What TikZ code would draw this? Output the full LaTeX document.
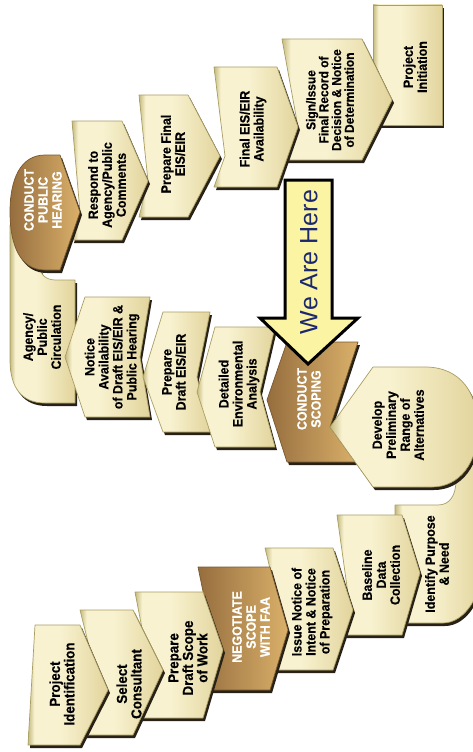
\documentclass[tikz,border=0pt]{standalone}
\usepackage{fontspec}
\setmainfont{Liberation Sans}
\newfontfamily\labfont{Liberation Sans}[UprightFont=* Bold, FakeBold=0.5, FakeStretch=0.92]
\definecolor{cOl}{RGB}{196,186,128}
\definecolor{cLt}{RGB}{248,242,208}
\definecolor{cDk}{RGB}{226,212,156}
\definecolor{cEdge}{RGB}{170,158,100}
\definecolor{bDk}{RGB}{150,110,62}
\definecolor{bLt}{RGB}{218,176,106}
\definecolor{bEdge}{RGB}{120,88,46}
\definecolor{shadowc}{RGB}{40,33,22}
\definecolor{arrowfill}{RGB}{251,244,163}
\definecolor{navy}{RGB}{28,40,110}
\pgfdeclarehorizontalshading{creamshade}{100bp}{color(0bp)=(cOl); color(25bp)=(cOl); color(29bp)=(cLt); color(45bp)=(cLt); color(75bp)=(cDk); color(100bp)=(cDk)}
\pgfdeclarehorizontalshading{brownshade}{100bp}{color(0bp)=(bDk); color(25bp)=(bDk); color(75bp)=(bLt); color(100bp)=(bLt)}
\tikzset{
  cbox/.style={shade, shading=creamshade, draw=cEdge, line width=0.7pt, line join=round,
    preaction={fill=shadowc, transform canvas={shift={(2pt,-3pt)}}}},
  bbox/.style={shade, shading=brownshade, draw=bEdge, line width=0.7pt, line join=round,
    preaction={fill=shadowc, transform canvas={shift={(2pt,-3pt)}}}},
  lab/.style={rotate=90, align=center, inner sep=0pt, text=black,
    font=\labfont\fontsize{13.5}{14}\selectfont},
  labbig/.style={lab, font=\labfont\fontsize{14.5}{14.5}\selectfont},
  wlab/.style={lab, text=white},
  herearrow/.style={fill=arrowfill, draw=black, line width=3pt, line join=miter},
}
\begin{document}
\begin{tikzpicture}[x=1pt, y=-1pt]
\fill[white] (0,0) rectangle (472,752);
\useasboundingbox (0,0) rectangle (472,752);

% ---------- middle row (right to left) ----------
\path[cbox] (75,280) -- (75,403) -- (45,403) .. controls (22,403) and (10,388) .. (10,360)
  -- (10,225) -- (40,225) -- (40,266) .. controls (40,275) and (46,280) .. (56,280) -- cycle;
\node[lab] (agency) at (42,337) {Agency/\\Public\\Circulation};

\path[cbox] (85,297) -- (150,297) -- (140,357) -- (150,417) -- (85,417) -- (65,357) -- cycle;
\node[lab] (notice) at (112,357) {Notice\\Availability\\of Draft EIS/EIR \&\\Public Hearing};

\path[cbox] (163,312) -- (210,312) -- (197,377) -- (210,432) -- (163,432) -- (143,377) -- cycle;
\node[lab] (pdraft) at (174,372) {Prepare\\Draft EIS/EIR};

\path[cbox] (215,327) -- (275,327) -- (260,392) -- (275,447) -- (215,447) -- (197,392) -- cycle;
\node[lab] (detailed) at (239,384) {Detailed\\Environmental\\Analysis};

\path[bbox] (287,342) -- (358,342) -- (330,427) -- (358,462) -- (287,462) -- (267,400) -- cycle;
\node[wlab] (scoping) at (309,399) {CONDUCT\\SCOPING};

% U-turn band to bottom row
\path[cbox] (395,505) -- (438,505) .. controls (450,505) and (456,495) .. (456,480)
  -- (456,440) -- (483,440) -- (483,560) .. controls (483,595) and (465,623) .. (443,623)
  -- (395,623) -- cycle;
\node[lab] (identify) at (437,564) {Identify Purpose\\\& Need};

\path[cbox] (330,427) -- (373,367) -- (425,367) .. controls (462,367) and (478,395) .. (478,428)
  .. controls (478,462) and (460,487) .. (432,487) -- (373,487) -- cycle;
\node[lab] (develop) at (398,425) {Develop\\Preliminary\\Range of\\Alternatives};

% ---------- bottom row (left to right) ----------
\path[cbox] (337,515) -- (402,515) -- (420,573) -- (402,635) -- (337,635) -- (350,608) -- cycle;
\node[lab] (baseline) at (381,575) {Baseline\\Data\\Collection};

\path[cbox] (265,548) -- (333,548) -- (353,610) -- (333,670) -- (265,670) -- (285,630) -- cycle;
\node[lab] (intent) at (312,612) {Issue Notice of\\Intent \& Notice\\of Preparation};

\path[bbox] (198,567) -- (270,567) -- (288,630) -- (270,690) -- (198,690) -- (215,650) -- cycle;
\node[wlab] (negotiate) at (251,627) {NEGOTIATE\\SCOPE\\WITH FAA};

\path[cbox] (135,592) -- (203,592) -- (223,650) -- (203,718) -- (135,718) -- (150,670) -- cycle;
\node[labbig] (scope) at (188,658) {Prepare\\Draft Scope\\of Work};

\path[cbox] (80,610) -- (133,610) -- (163,670) -- (133,735) -- (80,735) -- (100,690) -- cycle;
\node[labbig] (consultant) at (129,684) {Select\\Consultant};

\path[cbox] (35,625) -- (80,625) -- (108,690) -- (80,745) -- (28,745) -- cycle;
\node[labbig] (ident) at (62,684) {Project\\Identification};

% ---------- top row (left to right) ----------
\path[cbox] (373,5) -- (442,5) -- (442,125) -- (373,125) -- cycle;
\node[lab] (initiation) at (415,67) {Project\\Initiation};

\path[cbox] (282,39) -- (362,39) -- (392,100) -- (362,160) -- (282,160) -- (298,127) -- cycle;
\node[lab, font=\labfont\fontsize{13}{12.8}\selectfont] (sign) at (330,100)
  {Sign/Issue\\Final Record of\\Decision \& Notice\\of Determination};

\path[cbox] (214,67) -- (277,67) -- (298,127) -- (277,187) -- (214,187) -- (225,156) -- cycle;
\node[lab] (avail) at (253,129) {Final EIS/EIR\\Availability};

\path[cbox] (139,95) -- (188,95) -- (220,156) -- (188,217) -- (139,217) -- (148,181) -- cycle;
\node[lab] (pfinal) at (173,154) {Prepare Final\\EIS/EIR};

\path[cbox] (72,121) -- (122,121) -- (148,181) -- (122,240) -- (72,240) -- (80,212) -- cycle;
\node[lab] (respond) at (107,185) {Respond to\\Agency/Public\\Comments};

\path[bbox] (60,155) -- (80,212) -- (60,270) -- (45,270) .. controls (20,270) and (10,245) .. (10,212)
  .. controls (10,180) and (20,155) .. (45,155) -- cycle;
\node[wlab] (hearing) at (43,200) {CONDUCT\\PUBLIC\\HEARING};

% ---------- We Are Here arrow ----------
\path[herearrow] (285,180) -- (332,180) -- (332,318) -- (358,318) -- (308,364) -- (260,318) -- (285,318) -- cycle;
\node[rotate=90, inner sep=0pt, text=navy, font=\fontsize{25}{28}\selectfont] (here) at (309,262) {We Are Here};
\end{tikzpicture}
\end{document}
